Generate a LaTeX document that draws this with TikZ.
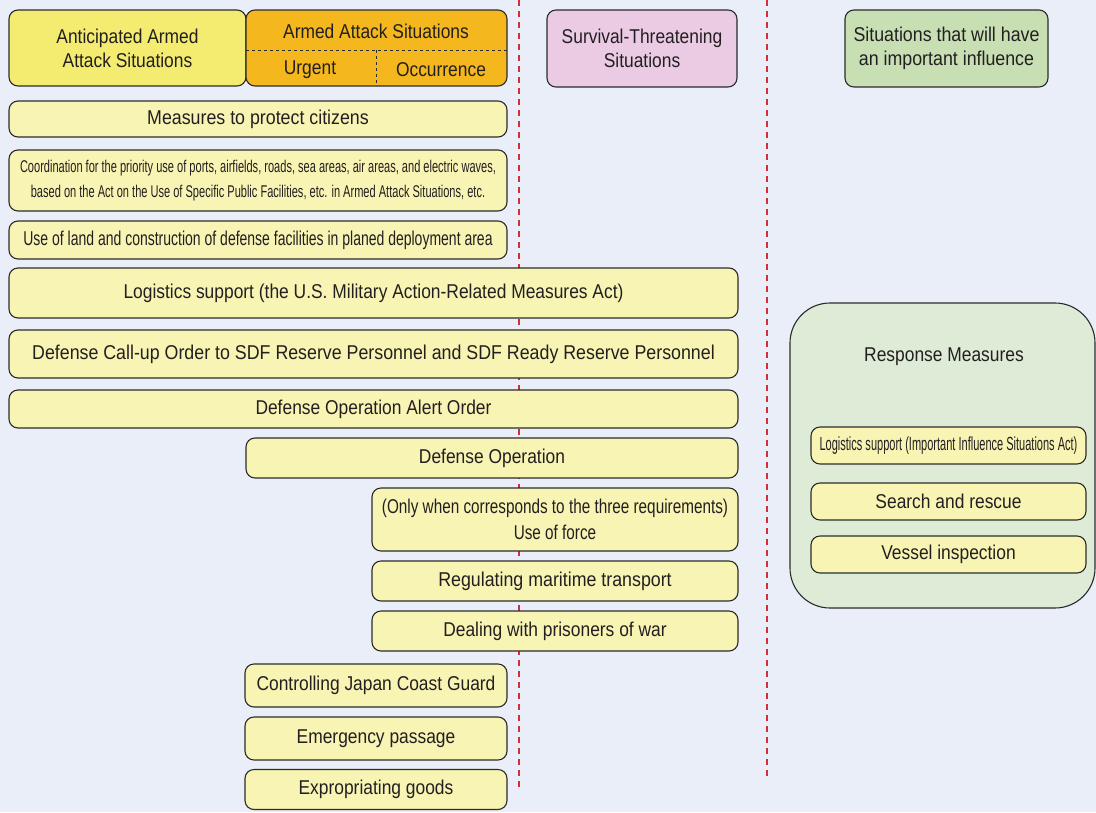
\documentclass[tikz,border=0pt]{standalone}
\usepackage{fontspec}
\setmainfont{Liberation Sans}[FakeStretch=0.87]
\newfontfamily\widefont{Liberation Sans}[FakeStretch=0.89]
\newfontfamily\landfont{Liberation Sans}[FakeStretch=0.70]
\newfontfamily\forcefont{Liberation Sans}[FakeStretch=0.765]
\newfontfamily\narrowfont{Liberation Sans}[FakeStretch=0.65]
\newfontfamily\narrowerfont{Liberation Sans}[FakeStretch=0.58]
\definecolor{bgc}{HTML}{E9EEF8}
\definecolor{itemy}{HTML}{F8F4B4}
\definecolor{antic}{HTML}{F4EC70}
\definecolor{armed}{HTML}{F4B81E}
\definecolor{pinkc}{HTML}{EACBE3}
\definecolor{greenh}{HTML}{C7DFB3}
\definecolor{greenr}{HTML}{DEEBD6}
\definecolor{redl}{HTML}{D0303A}
\definecolor{txt}{HTML}{231F20}
\definecolor{edge}{HTML}{2B2B2B}
\tikzset{
  base/.style={draw=edge, line width=1.1pt, rounded corners=9pt, text=txt, align=center, inner sep=0pt, font=\fontsize{20}{24}\selectfont},
  item/.style={base, fill=itemy},
  sep/.style={draw=redl, line width=1.3pt, dash pattern=on 6pt off 5pt},
  sub/.style={draw=edge, line width=1pt, dashed},
  lbl/.style={text=txt, inner sep=0pt, font=\fontsize{20}{24}\selectfont, align=center}
}
\begin{document}
\begin{tikzpicture}[x=1pt,y=-1pt]
\fill[bgc] (0,0) rectangle (1096,812);
\useasboundingbox (0,0) rectangle (1096,812);
% separators
\coordinate (s1a) at (519,0); \coordinate (s1b) at (519,790);
\coordinate (s2a) at (767,0); \coordinate (s2b) at (767,780);
\draw[sep] (s1a) -- (s1b);
\draw[sep] (s2a) -- (s2b);
% headers
\node[base, fill=antic, minimum width=237pt, minimum height=76pt] (antic) at (127.5,48) {Anticipated Armed\\Attack Situations};
\node[base, fill=armed, minimum width=261pt, minimum height=76pt] (armed) at (376.5,48) {};
\node[lbl] (armedt) at (376,31) {Armed Attack Situations};
\node[lbl] (urgent) at (310,70) {Urgent};
\node[lbl] (occ) at (441,70) {Occurrence};
\coordinate (hl) at (246,50); \coordinate (hr) at (507,50);
\coordinate (vt) at (376,50); \coordinate (vb) at (376,86);
\draw[sub] (hl) -- (hr);
\draw[sub] (vt) -- (vb);
\node[base, fill=pinkc, minimum width=190pt, minimum height=77pt] (surv) at (642,48.5) {Survival-Threatening\\Situations};
\node[base, fill=greenh, minimum width=203pt, minimum height=77pt, font=\widefont\fontsize{20}{24}\selectfont] (infl) at (946.5,48.5) {Situations that will have\\an important influence};
% left items
\node[item, minimum width=498pt, minimum height=36pt, font=\widefont\fontsize{20}{24}\selectfont] (prot) at (258,119) {Measures to protect citizens};
\node[item, minimum width=498pt, minimum height=61pt, font=\narrowfont\fontsize{17}{25}\selectfont] (coord) at (258,180.5) {Coordination for the priority use of ports, airfields, roads, sea areas, air areas, and electric waves,\\based on the Act on the Use of Specific Public Facilities, etc. in Armed Attack Situations, etc.};
\node[item, minimum width=498pt, minimum height=38pt, font=\landfont\fontsize{20}{24}\selectfont] (land) at (258,240) {Use of land and construction of defense facilities in planed deployment area};
\node[item, minimum width=729pt, minimum height=50pt] (logi) at (373.5,293) {Logistics support (the U.S. Military Action-Related Measures Act)};
\node[item, minimum width=729pt, minimum height=48pt, font=\widefont\fontsize{20}{24}\selectfont] (callup) at (373.5,354) {Defense Call-up Order to SDF Reserve Personnel and SDF Ready Reserve Personnel};
\node[item, minimum width=729pt, minimum height=38pt] (alert) at (373.5,409) {Defense Operation Alert Order};
\node[item, minimum width=492pt, minimum height=40pt] (defop) at (492,458) {Defense Operation};
\node[item, minimum width=366pt, minimum height=63pt, font=\forcefont\fontsize{20}{25.5}\selectfont] (force) at (555,519.5) {(Only when corresponds to the three requirements)\\Use of force};
\node[item, minimum width=366pt, minimum height=40pt, font=\widefont\fontsize{20}{24}\selectfont] (regul) at (555,581) {Regulating maritime transport};
\node[item, minimum width=366pt, minimum height=40pt] (pow) at (555,631) {Dealing with prisoners of war};
\node[item, minimum width=262pt, minimum height=43pt] (jcg) at (376,685.5) {Controlling Japan Coast Guard};
\node[item, minimum width=262pt, minimum height=43pt] (emerg) at (376,738.5) {Emergency passage};
\node[item, minimum width=262pt, minimum height=40pt] (expr) at (376,789.5) {Expropriating goods};
% response measures
\node[base, fill=greenr, rounded corners=40pt, minimum width=305pt, minimum height=305pt] (resp) at (942.5,455.5) {};
\node[lbl] (respt) at (944,357) {Response Measures};
\node[item, minimum width=275pt, minimum height=37pt, font=\narrowerfont\fontsize{19}{22}\selectfont] (imp) at (948.5,445.5) {Logistics support (Important Influence Situations Act)};
\node[item, minimum width=275pt, minimum height=37pt] (sar) at (948.5,501.5) {Search and rescue};
\node[item, minimum width=275pt, minimum height=37pt] (vessel) at (948.5,554.5) {Vessel inspection};
\end{tikzpicture}
\end{document}
